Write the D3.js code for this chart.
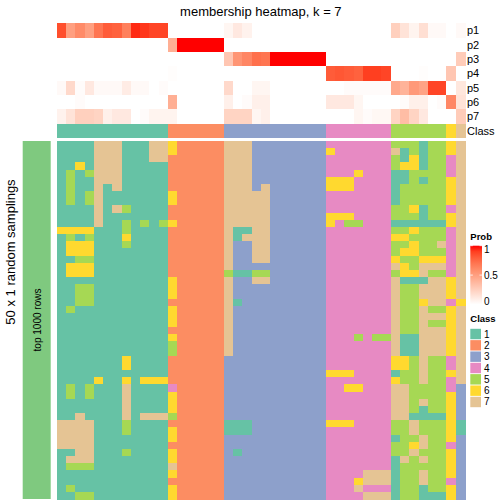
<!DOCTYPE html>
<html><head><meta charset="utf-8">
<script src="https://cdn.jsdelivr.net/npm/d3@7"></script>
<style>html,body{margin:0;padding:0;background:#fff;}svg{display:block;font-family:"Liberation Sans",Arial,Helvetica,sans-serif;}</style>
</head><body><div id="chart"></div>
<script>
// ---- data ----
const classLabels = ["1","2","3","4","5","6","7"];
const classColors = ["#66C2A5","#FC8D62","#8DA0CB","#E78AC3","#A6D854","#FFD92F","#E5C494"];
const colClass = [1,1,1,1,1,1,1,1,1,1,1,1, 2,2,2,2,2,2, 3,3,3,3,3,3,3,3,3,3,3, 4,4,4,4,4,4,4, 5,5,5,5,5,5, 6, 7];
const probRows = ["p1","p2","p3","p4","p5","p6","p7"];
const p1 = [0.85,0.5,0.6,0.5,0.7,0.8,0.78,0.65,0.95,0.92,0.88,0.88, 0,0,0,0,0,0, 0.05,0.12,0.07,0,0,0,0,0,0,0,0, 0,0,0,0,0,0,0, 0.25,0.15,0.06,0.17,0.03,0.03, 0, 0.03];
const p2 = [0,0,0,0,0,0,0,0,0,0,0,0, 0.42,1,1,1,1,1, 0,0,0,0,0,0,0,0,0,0,0, 0,0,0,0,0,0,0, 0,0,0,0,0,0, 0, 0];
const p3 = [0,0,0,0,0,0,0,0,0,0,0,0, 0,0,0,0,0,0, 0.3,0.55,0.62,0.72,0.7,1,1,1,1,1,1, 0,0,0,0,0,0,0, 0,0,0,0,0,0, 0, 0.27];
const p4 = [0,0,0,0,0,0,0,0,0,0,0,0, 0.01,0,0,0,0,0, 0,0,0,0,0,0,0,0,0,0,0, 0.8,0.82,0.8,0.78,0.9,0.9,0.88, 0,0,0,0.01,0,0, 0.3, 0];
const p5 = [0.03,0.2,0.02,0.12,0.03,0.03,0.03,0.1,0.03,0.03,0,0.02, 0,0,0,0,0,0, 0.2,0,0,0.05,0.05,0,0,0,0,0,0, 0,0,0.02,0.02,0.02,0.02,0.02, 0.45,0.4,0.53,0.48,0.88,0.88, 0, 0.13];
const p6 = [0,0,0.02,0,0,0,0,0,0,0,0,0, 0.42,0,0,0,0,0, 0.08,0,0.02,0.08,0.08,0,0,0,0,0,0, 0.12,0.12,0.12,0.05,0,0,0, 0,0.02,0.08,0.08,0,0.02, 0.62, 0.15];
const p7 = [0.07,0.15,0.25,0.25,0.23,0.08,0.12,0.12,0,0.02,0.06,0.06, 0.06,0,0,0,0,0, 0.23,0.23,0.23,0.05,0.08,0,0,0,0,0,0, 0,0,0,0.05,0.02,0.04,0.04, 0.23,0.35,0.23,0.12,0,0, 0, 0.27];
const probTicks = [0, 0.5, 1];
// 50 samplings x 44 columns, class code per cell
const samplings = [
"111177711177"+"622222"+"77733333333"+"4444444"+"555155"+"6"+"7",
"111177711177"+"622222"+"77733333333"+"6444444"+"715155"+"6"+"7",
"111177711177"+"222222"+"77733333333"+"4444444"+"516155"+"4"+"7",
"116177711111"+"222222"+"77733333333"+"4444444"+"566155"+"4"+"7",
"151577711111"+"222222"+"77733333333"+"4446444"+"115555"+"4"+"7",
"151177711111"+"222222"+"77733333333"+"6664444"+"115155"+"6"+"7",
"151171711111"+"222222"+"77737333333"+"6664444"+"155555"+"6"+"7",
"151571111111"+"622222"+"77777333333"+"4444444"+"155555"+"6"+"7",
"151571111111"+"622222"+"77777333333"+"4444444"+"155555"+"6"+"7",
"111171751111"+"222222"+"77777333333"+"4444444"+"556155"+"4"+"7",
"111171111111"+"222222"+"77777333333"+"6664444"+"555155"+"6"+"7",
"111171151515"+"622222"+"77777333333"+"6455444"+"111111"+"6"+"7",
"666611151111"+"222222"+"71177333333"+"4444444"+"556555"+"4"+"7",
"151511161111"+"222222"+"71777333333"+"4444444"+"665555"+"4"+"7",
"166611151111"+"222222"+"73377333333"+"4444444"+"556557"+"4"+"7",
"166611111111"+"222222"+"73377333333"+"4444444"+"566555"+"4"+"7",
"115511111111"+"222222"+"73377333333"+"4444444"+"655666"+"4"+"7",
"166611111111"+"222222"+"73333333333"+"4444444"+"765777"+"4"+"7",
"166611111111"+"222222"+"51155333333"+"4444444"+"566755"+"4"+"7",
"111111111111"+"622222"+"73377333333"+"4444444"+"711177"+"6"+"7",
"115511111111"+"622222"+"73333333333"+"4444444"+"755777"+"6"+"7",
"115511111111"+"622222"+"73333333333"+"4444444"+"755777"+"6"+"7",
"115511111111"+"222222"+"71333333333"+"4444444"+"755677"+"4"+"6",
"151111111111"+"622222"+"73333333333"+"4444444"+"755755"+"6"+"7",
"111111111111"+"622222"+"73333333333"+"4444444"+"755777"+"6"+"7",
"111111111111"+"622222"+"73333333333"+"4444444"+"755755"+"6"+"7",
"111111111111"+"222222"+"73333333333"+"4444444"+"755777"+"6"+"7",
"111111111111"+"622222"+"73333333333"+"4445455"+"711777"+"6"+"7",
"111111111111"+"522222"+"73333333333"+"4444444"+"711777"+"6"+"7",
"111111111111"+"522222"+"73333333333"+"4444444"+"711777"+"6"+"7",
"111111161111"+"222222"+"33333333333"+"4444444"+"665755"+"4"+"7",
"111111161111"+"222222"+"33333333333"+"4444444"+"665755"+"4"+"7",
"111111111111"+"222222"+"33333333333"+"6664444"+"155755"+"6"+"7",
"111161161666"+"222222"+"33333333333"+"4444444"+"655755"+"4"+"7",
"151511171111"+"422222"+"33333333333"+"4466444"+"775555"+"4"+"3",
"151511171111"+"622222"+"33333333333"+"4444444"+"775555"+"6"+"3",
"111111171111"+"622222"+"33333333333"+"4444444"+"775755"+"6"+"3",
"111111171111"+"622222"+"33333333333"+"4444444"+"775155"+"6"+"3",
"117111171777"+"522222"+"33333333333"+"4444444"+"771111"+"6"+"3",
"777711151111"+"222222"+"11133333333"+"6664444"+"557555"+"6"+"1",
"777711151111"+"622222"+"11133333333"+"4444444"+"557555"+"6"+"1",
"777711111111"+"622222"+"33333333333"+"4444444"+"155755"+"6"+"3",
"777711111111"+"222222"+"33333333333"+"4444444"+"556755"+"4"+"3",
"117711151111"+"622222"+"31333333333"+"4444444"+"557555"+"6"+"3",
"177711111111"+"622222"+"33333333333"+"4444444"+"175755"+"6"+"3",
"155511111111"+"722222"+"33333333333"+"4444444"+"155555"+"6"+"3",
"111111111111"+"622222"+"33333333333"+"4444777"+"155755"+"6"+"3",
"111111111111"+"222222"+"33333333333"+"4446777"+"155755"+"4"+"3",
"151111111111"+"622222"+"33333333333"+"4447444"+"155155"+"6"+"3",
"115511111111"+"622222"+"33333333333"+"4444777"+"155111"+"6"+"3"
];

// ---- drawing ----
const W = 504, H = 504;
const svg = d3.select("#chart").append("svg").attr("width", W).attr("height", H);
svg.append("rect").attr("width", W).attr("height", H).attr("fill", "#fff");

const nCol = colClass.length;
const x = d3.scaleBand().domain(d3.range(nCol)).range([56.7, 465]);
const yProb = d3.scaleBand().domain(probRows.concat(["Class"])).range([23.3, 138]);
const yMain = d3.scaleBand().domain(d3.range(samplings.length)).range([141, 499]);
const probColor = d3.scaleLinear().domain([0, 1]).range(["#FFFFFF", "#FF0000"]).interpolate(d3.interpolateLab);
const classColor = d3.scaleOrdinal().domain(classLabels).range(classColors);

// title
svg.append("text").attr("x", (x.range()[0] + x.range()[1]) / 2).attr("y", 16)
  .attr("text-anchor", "middle").attr("font-size", 13).text("membership heatmap, k = 7");

// probability heatmap
const probData = [p1, p2, p3, p4, p5, p6, p7];
const gProb = svg.append("g").attr("shape-rendering", "crispEdges");
probData.forEach((arr, r) => {
  gProb.append("g").selectAll("rect").data(arr).join("rect")
    .attr("x", (d, i) => x(i)).attr("y", yProb(probRows[r]))
    .attr("width", x.bandwidth() + 0.5).attr("height", yProb.bandwidth() + 0.5)
    .attr("fill", d => probColor(d));
});
// class annotation
gProb.append("g").selectAll("rect").data(colClass).join("rect")
  .attr("x", (d, i) => x(i)).attr("y", yProb("Class"))
  .attr("width", x.bandwidth() + 0.5).attr("height", yProb.bandwidth())
  .attr("fill", d => classColor(String(d)));
// row labels
svg.append("g").selectAll("text").data(yProb.domain()).join("text")
  .attr("x", 467).attr("y", d => yProb(d) + yProb.bandwidth() / 2)
  .attr("dy", "0.35em").attr("font-size", 11).text(d => d);

// main heatmap
const cells = [];
samplings.forEach((s, r) => { for (let c = 0; c < s.length; c++) cells.push({r, c, k: s[c]}); });
svg.append("g").attr("shape-rendering", "crispEdges").selectAll("rect").data(cells).join("rect")
  .attr("x", d => x(d.c)).attr("y", d => yMain(d.r))
  .attr("width", x.bandwidth() + 0.5).attr("height", yMain.bandwidth() + 0.5)
  .attr("fill", d => classColor(d.k));

// left annotation bar
svg.append("rect").attr("x", 22.7).attr("y", yMain.range()[0]).attr("width", 28)
  .attr("height", yMain.range()[1] - yMain.range()[0]).attr("fill", "#7FC97F");
svg.append("text").attr("transform", "translate(40.5,320) rotate(-90)")
  .attr("text-anchor", "middle").attr("font-size", 10).text("top 1000 rows");
svg.append("text").attr("transform", "translate(15,252) rotate(-90)")
  .attr("text-anchor", "middle").attr("font-size", 13).text("50 x 1 random samplings");

// Prob legend
svg.append("text").attr("x", 470.3).attr("y", 240).attr("font-size", 9.5).attr("font-weight", "bold").text("Prob");
const defs = svg.append("defs");
const grad = defs.append("linearGradient").attr("id", "pg").attr("x1", 0).attr("y1", 1).attr("x2", 0).attr("y2", 0);
d3.range(0, 1.0001, 0.1).forEach(t => grad.append("stop").attr("offset", t).attr("stop-color", probColor(t)));
const yLeg = d3.scaleLinear().domain([0, 1]).range([304.5, 245.7]);
svg.append("rect").attr("x", 470.3).attr("y", yLeg(1)).attr("width", 11.7)
  .attr("height", yLeg(0) - yLeg(1)).attr("fill", "url(#pg)");
probTicks.forEach(t => {
  svg.append("line").attr("x1", 470.3).attr("x2", 472.8).attr("y1", yLeg(t)).attr("y2", yLeg(t)).attr("stroke", "#fff").attr("stroke-width", 0.8);
  svg.append("line").attr("x1", 479.5).attr("x2", 482).attr("y1", yLeg(t)).attr("y2", yLeg(t)).attr("stroke", "#fff").attr("stroke-width", 0.8);
  svg.append("text").attr("x", 484).attr("y", Math.max(249, Math.min(301.5, yLeg(t))))
    .attr("dy", "0.35em").attr("font-size", 10).text(d3.format("~g")(t));
});

// Class legend
svg.append("text").attr("x", 470.3).attr("y", 322).attr("font-size", 9.5).attr("font-weight", "bold").text("Class");
const yCls = d3.scaleBand().domain(classLabels).range([328.8, 407.2]).paddingInner(0.08);
svg.append("g").selectAll("rect").data(classLabels).join("rect")
  .attr("x", 470.3).attr("y", d => yCls(d)).attr("width", 10.7).attr("height", yCls.bandwidth())
  .attr("fill", d => classColor(d));
svg.append("g").selectAll("text").data(classLabels).join("text")
  .attr("x", 484).attr("y", d => yCls(d) + yCls.bandwidth() / 2).attr("dy", "0.35em")
  .attr("font-size", 10).text(d => d);
</script></body></html>
